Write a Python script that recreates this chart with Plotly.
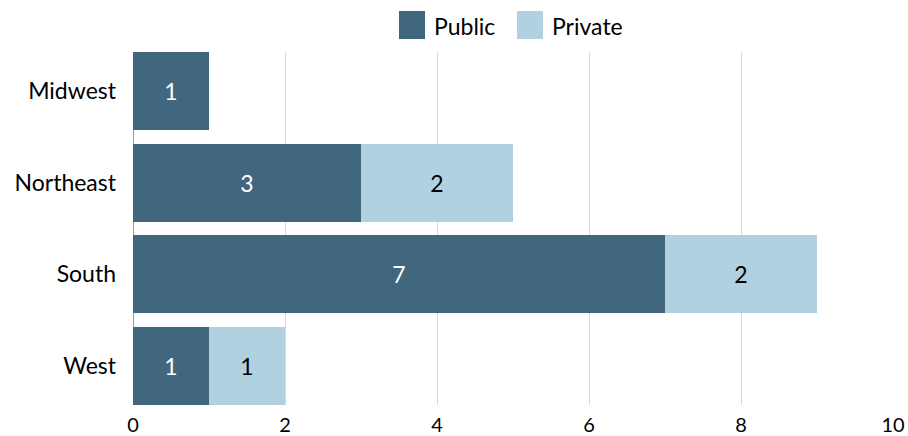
import plotly.graph_objects as go

regions = ["Midwest", "Northeast", "South", "West"]
public = [1, 3, 7, 1]
private = [0, 2, 2, 1]
x_ticks = [0, 2, 4, 6, 8, 10]

PUBLIC_COLOR = "#41677f"
PRIVATE_COLOR = "#b1d1e1"
FONT = "Lato"
FS = 23

def labels(vals):
    return [str(v) if v else "" for v in vals]

fig = go.Figure()
fig.add_trace(go.Bar(
    y=regions, x=public, orientation="h", name="Public",
    marker=dict(color=PUBLIC_COLOR, line=dict(width=0)),
    text=labels(public), textposition="inside", insidetextanchor="middle",
    textfont=dict(color="white", size=23, family=FONT),
    showlegend=False, hoverinfo="x+y",
))
fig.add_trace(go.Bar(
    y=regions, x=private, orientation="h", name="Private",
    marker=dict(color=PRIVATE_COLOR, line=dict(width=0)),
    text=labels(private), textposition="inside", insidetextanchor="middle",
    textfont=dict(color="black", size=23, family=FONT),
    showlegend=False, hoverinfo="x+y",
))

# Legend drawn as swatches + labels above the plot
legend_items = [("Public", PUBLIC_COLOR, 399, 432), ("Private", PRIVATE_COLOR, 517, 550)]
W, H = 908, 436
ml, mr, mt, mb = 133, 15, 52, 31
pw, ph = W - ml - mr, H - mt - mb
shapes = []
annotations = []
for name, color, sx, tx in legend_items:
    x0 = (sx - ml) / pw
    x1 = (sx + 26 - ml) / pw
    y0 = (H - mb - 39) / ph
    y1 = (H - mb - 11) / ph
    shapes.append(dict(type="rect", xref="paper", yref="paper", x0=x0, x1=x1,
                       y0=y0, y1=y1, fillcolor=color, line=dict(width=0)))
    annotations.append(dict(xref="paper", yref="paper", x=(tx - ml) / pw,
                            y=(H - mb - 26) / ph, text=name, showarrow=False,
                            xanchor="left", yanchor="middle",
                            font=dict(size=FS, family=FONT, color="black")))

fig.update_layout(
    barmode="stack",
    bargap=0.15,
    width=W, height=H,
    margin=dict(l=ml, r=mr, t=mt, b=mb, autoexpand=False),
    plot_bgcolor="white", paper_bgcolor="white",
    font=dict(family=FONT, size=FS, color="black"),
    uniformtext=dict(mode=False),
    shapes=shapes,
    annotations=annotations,
)
fig.update_xaxes(
    range=[0, 10], tickvals=x_ticks, showgrid=True, gridcolor="#d9d9d9", gridwidth=1,
    zeroline=True, zerolinecolor="#999999", zerolinewidth=1,
    showline=False, ticks="", tickfont=dict(size=20, family=FONT),
    ticklabelstandoff=6, automargin=False,
)
fig.update_yaxes(
    categoryorder="array", categoryarray=regions,
    range=[3.425, -0.425], showgrid=False, zeroline=False, showline=False,
    ticks="", tickfont=dict(size=FS, family=FONT), ticklabelstandoff=16,
    automargin=False,
)

fig.write_html("out.html")
